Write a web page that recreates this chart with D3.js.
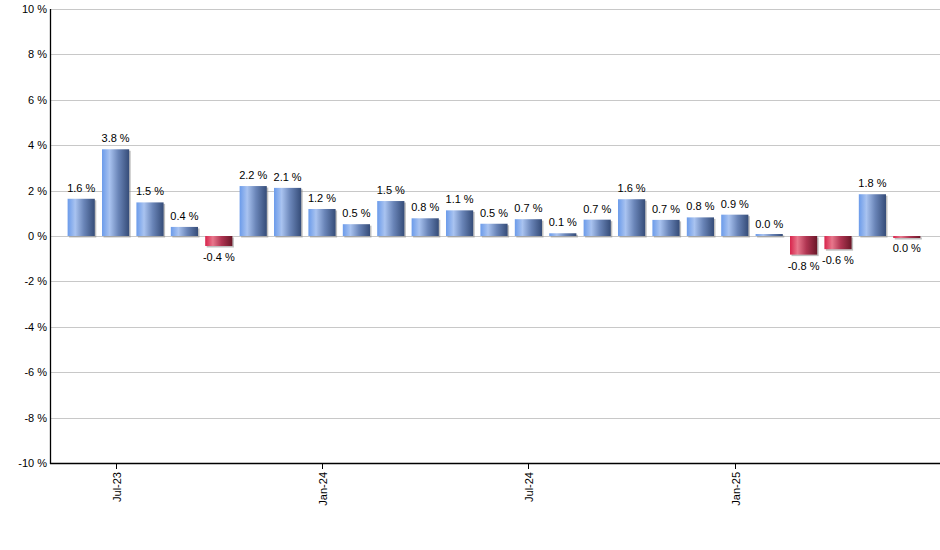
<!DOCTYPE html>
<html>
<head>
<meta charset="utf-8">
<script src="https://cdn.jsdelivr.net/npm/d3@7"></script>
<style>
  body { margin: 0; background: #fff; }
  svg text { font-family: "Liberation Sans", Arial, sans-serif; font-size: 11px; fill: #000; }
</style>
</head>
<body>
<svg id="chart"></svg>
<script>
// Chart size
const width = 940;
const height = 550;

// Months shown (one bar each)
const months = [
  "Jun-23", "Jul-23", "Aug-23", "Sep-23", "Oct-23", "Nov-23", "Dec-23",
  "Jan-24", "Feb-24", "Mar-24", "Apr-24", "May-24", "Jun-24", "Jul-24",
  "Aug-24", "Sep-24", "Oct-24", "Nov-24", "Dec-24", "Jan-25", "Feb-25",
  "Mar-25", "Apr-25", "May-25", "Jun-25"
];

// Monthly change in percent
const changes = [
  1.64, 3.82, 1.48, 0.40, -0.44, 2.20, 2.12,
  1.19, 0.52, 1.54, 0.78, 1.13, 0.54, 0.74,
  0.12, 0.72, 1.62, 0.71, 0.82, 0.94, 0.04,
  -0.82, -0.58, 1.84, -0.03
];

// Which months get a label on the x axis
const tickMonths = ["Jul-23", "Jan-24", "Jul-24", "Jan-25"];
const yTicks = [-10, -8, -6, -4, -2, 0, 2, 4, 6, 8, 10];

const plotLeft = 50, plotRight = 940, plotTop = 9, plotBottom = 463;

const svg = d3.select("#chart").attr("width", width).attr("height", height);

const x = d3.scaleBand()
  .domain(months)
  .range([64, 924])
  .paddingInner(0.21)
  .paddingOuter(0.105);

const y = d3.scaleLinear().domain([-10, 10]).range([plotBottom, plotTop]);

// gradients for the bars
const defs = svg.append("defs");
function addGradient(id, stops) {
  const g = defs.append("linearGradient").attr("id", id)
    .attr("x1", "0%").attr("x2", "100%").attr("y1", "0%").attr("y2", "0%");
  stops.forEach(s => g.append("stop").attr("offset", s[0]).attr("stop-color", s[1]));
}
addGradient("blueGrad", [["0%", "#6b9bea"], ["28%", "#a9c3f0"], ["60%", "#6a85b8"], ["100%", "#354c78"]]);
addGradient("redGrad", [["0%", "#d8234b"], ["28%", "#e8778c"], ["60%", "#b03552"], ["100%", "#6a1728"]]);

// gridlines
svg.append("g")
  .selectAll("line")
  .data(yTicks)
  .join("line")
  .attr("x1", plotLeft).attr("x2", plotRight)
  .attr("y1", d => Math.round(y(d)) + 0.5).attr("y2", d => Math.round(y(d)) + 0.5)
  .attr("stroke", "#c8c8c8");

// y labels
svg.append("g")
  .selectAll("text")
  .data(yTicks)
  .join("text")
  .attr("x", plotLeft - 3)
  .attr("y", d => y(d) + 4)
  .attr("text-anchor", "end")
  .text(d => d + " %");

// bars with a small shadow
const bars = svg.append("g");
changes.forEach((v, i) => {
  const bx = x(months[i]);
  const h = Math.max(2, Math.abs(y(v) - y(0)));
  const by = v < 0 ? y(0) : y(0) - h;
  bars.append("rect")
    .attr("x", bx + 1.5).attr("y", by + 1.5)
    .attr("width", x.bandwidth()).attr("height", h)
    .attr("fill", "#8a8a8a").attr("opacity", 0.55);
  bars.append("rect")
    .attr("x", bx).attr("y", by)
    .attr("width", x.bandwidth()).attr("height", h)
    .attr("fill", v < 0 ? "url(#redGrad)" : "url(#blueGrad)");
});

// value labels
function fmt(v) {
  const r = Math.abs(v) < 0.05 ? 0 : v;
  return r.toFixed(1) + " %";
}
svg.append("g")
  .selectAll("text")
  .data(changes)
  .join("text")
  .attr("x", (d, i) => x(months[i]) + x.bandwidth() / 2)
  .attr("y", d => d < 0 ? y(d) + 15 : y(d) - 7)
  .attr("text-anchor", "middle")
  .text(fmt);

// axes lines
svg.append("line")
  .attr("x1", plotLeft + 0.5).attr("x2", plotLeft + 0.5)
  .attr("y1", plotTop).attr("y2", plotBottom + 1)
  .attr("stroke", "#000").attr("stroke-width", 1.3);
svg.append("line")
  .attr("x1", plotLeft).attr("x2", plotRight)
  .attr("y1", plotBottom + 0.5).attr("y2", plotBottom + 0.5)
  .attr("stroke", "#000").attr("stroke-width", 1.3);

// x ticks and rotated labels
const xt = svg.append("g")
  .selectAll("g")
  .data(tickMonths)
  .join("g")
  .attr("transform", d => `translate(${Math.round(x(d) + x.bandwidth() / 2) + 0.5},${plotBottom})`);
xt.append("line").attr("y1", 0).attr("y2", 6).attr("stroke", "#000");
xt.append("text")
  .attr("transform", "rotate(-90)")
  .attr("x", -9)
  .attr("y", 4)
  .attr("text-anchor", "end")
  .text(d => d);
</script>
</body>
</html>
